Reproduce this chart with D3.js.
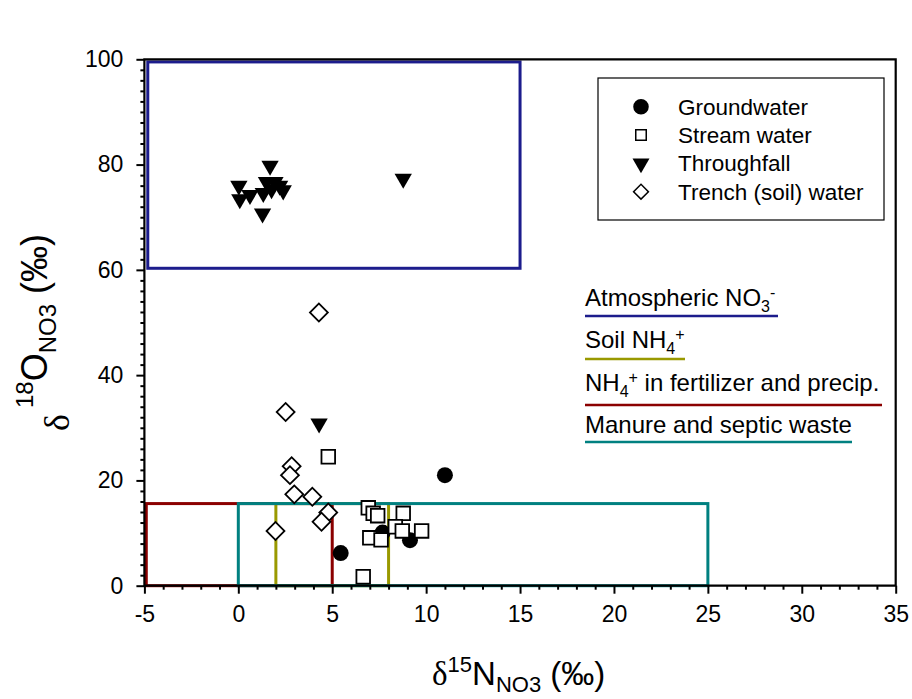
<!DOCTYPE html>
<html><head><meta charset="utf-8">
<script src="https://cdn.jsdelivr.net/npm/d3@7"></script>
<style>body{margin:0;background:#fff}svg{display:block;font-family:"Liberation Sans",Arial,sans-serif}</style>
</head><body><svg id="c" width="912" height="699"></svg>
<script>
// ---- data ----
const groundwaterX = [11.0, 5.45, 7.68, 9.14];
const groundwaterY = [21.0, 6.2, 10.1, 8.65];
const streamX = [4.79, 6.92, 7.18, 7.42, 8.78, 8.36, 7.0, 7.6, 8.73, 9.76, 6.65];
const streamY = [24.5, 14.8, 13.75, 13.3, 13.75, 11.2, 9.1, 8.7, 10.4, 10.4, 1.7];
const throughX = [1.69, 0.03, 0.08, 0.62, 1.33, 1.5, 1.95, 2.2, 2.39, 1.77, 1.29, 8.78, 4.3];
const throughY = [79.8, 76.0, 73.4, 74.2, 74.6, 76.7, 76.7, 76.0, 75.1, 75.3, 70.7, 77.3, 30.8];
const trenchX = [4.29, 2.52, 2.84, 2.75, 2.98, 3.94, 4.79, 4.43, 1.98];
const trenchY = [51.9, 33.0, 22.7, 21.0, 17.35, 16.9, 13.9, 12.15, 10.4];
// source boxes: [x0, x1, y0, y1]
const boxNames = ["Atmospheric", "Fertilizer", "Soil", "Manure"];
const boxX0 = [-4.82, -4.9, 2, 0];
const boxX1 = [15, 5, 8, 25];
const boxY0 = [60.3, 0, 0, 0];
const boxY1 = [99.5, 15.6, 15.6, 15.6];
const boxColors = ["#1c1c8c", "#8b0000", "#999900", "#008080"];
const xTicks = [-5, 0, 5, 10, 15, 20, 25, 30, 35];
const yTicks = [0, 20, 40, 60, 80, 100];
const legendNames = ["Groundwater", "Stream water", "Throughfall", "Trench (soil) water"];

// ---- chart ----
const svg = d3.select("#c");
const x = d3.scaleLinear().domain([-5, 35]).range([144.4, 895.7]);
const y = d3.scaleLinear().domain([0, 100]).range([585.7, 59.3]);

// source boxes
const boxes = boxNames.map((n, i) => ({n, x0: boxX0[i], x1: boxX1[i], y0: boxY0[i], y1: boxY1[i], c: boxColors[i]}));
svg.append("g").selectAll("rect").data(boxes).join("rect")
  .attr("x", d => x(d.x0)).attr("y", d => y(d.y1))
  .attr("width", d => x(d.x1) - x(d.x0)).attr("height", d => y(d.y0) - y(d.y1))
  .attr("fill", "none").attr("stroke", d => d.c).attr("stroke-width", 3);

// axes
const fmt = v => String(v).replace("\u2212", "-");
const xAxis = svg.append("g").attr("transform", `translate(0,${y(0)})`)
  .call(d3.axisBottom(x).tickValues(xTicks).tickSize(8).tickFormat(fmt));
const xMinor = svg.append("g").attr("transform", `translate(0,${y(0)})`)
  .call(d3.axisBottom(x).tickValues(d3.range(-5, 36, 1).filter(v => v % 5 !== 0)).tickSize(4).tickFormat(""));
const yAxis = svg.append("g").attr("transform", `translate(${x(-5)},0)`)
  .call(d3.axisLeft(y).tickValues(yTicks).tickSize(8).tickFormat(fmt));
const yMinor = svg.append("g").attr("transform", `translate(${x(-5)},0)`)
  .call(d3.axisLeft(y).tickValues(d3.range(0, 101, 2).filter(v => v % 20 !== 0)).tickSize(4).tickFormat(""));
[xAxis, xMinor, yAxis, yMinor].forEach(g => {
  g.select(".domain").remove();
  g.selectAll(".tick line").attr("stroke", "#000").attr("stroke-width", 2);
});
xAxis.selectAll(".tick text").attr("font-size", 23).attr("fill", "#000").attr("y", 20).attr("dy", "0.71em")
  .attr("font-family", "Liberation Sans, Arial, sans-serif");
yAxis.selectAll(".tick text").attr("font-size", 23).attr("fill", "#000").attr("x", -21)
  .attr("font-family", "Liberation Sans, Arial, sans-serif");

// frame
const frame = d3.path();
frame.moveTo(x(-5), y(0)); frame.lineTo(x(-5), y(100)); frame.lineTo(x(35), y(100));
frame.lineTo(x(35), y(0)); frame.closePath();
svg.append("path").attr("d", frame.toString()).attr("fill", "none").attr("stroke", "#000").attr("stroke-width", 2.2);

// markers
const triSym = d3.symbol().type(d3.symbolTriangle).size(130);
const circSym = d3.symbol().type(d3.symbolCircle).size(201);
const sqSym = d3.symbol().type(d3.symbolSquare).size(185);
const diaSym = d3.symbol().type(d3.symbolSquare).size(160);

const tr = throughX.map((v, i) => [v, throughY[i]]);
svg.append("g").selectAll("path").data(tr).join("path")
  .attr("d", triSym).attr("transform", d => `translate(${x(d[0])},${y(d[1])}) rotate(180)`).attr("fill", "#000");
const tw = trenchX.map((v, i) => [v, trenchY[i]]);
svg.append("g").selectAll("path").data(tw).join("path")
  .attr("d", diaSym).attr("transform", d => `translate(${x(d[0])},${y(d[1])}) rotate(45)`)
  .attr("fill", "#fff").attr("stroke", "#000").attr("stroke-width", 1.8);
const gw = groundwaterX.map((v, i) => [v, groundwaterY[i]]);
svg.append("g").selectAll("path").data(gw).join("path")
  .attr("d", circSym).attr("transform", d => `translate(${x(d[0])},${y(d[1])})`).attr("fill", "#000");
const sw = streamX.map((v, i) => [v, streamY[i]]);
svg.append("g").selectAll("path").data(sw).join("path")
  .attr("d", sqSym).attr("transform", d => `translate(${x(d[0])},${y(d[1])})`)
  .attr("fill", "#fff").attr("stroke", "#000").attr("stroke-width", 1.8);

// legend
svg.append("rect").attr("x", 598).attr("y", 78).attr("width", 286).attr("height", 142)
  .attr("fill", "#fff").attr("stroke", "#000").attr("stroke-width", 1.2);
const legRows = [106.7, 135, 163.5, 191.7];
const lg = svg.append("g");
lg.append("path").attr("d", d3.symbol().type(d3.symbolCircle).size(190)).attr("transform", `translate(641,${legRows[0]})`).attr("fill", "#000");
lg.append("path").attr("d", d3.symbol().type(d3.symbolSquare).size(110)).attr("transform", `translate(641,${legRows[1]})`).attr("fill", "#fff").attr("stroke", "#000").attr("stroke-width", 1.5);
lg.append("path").attr("d", d3.symbol().type(d3.symbolTriangle).size(125)).attr("transform", `translate(641,${legRows[2]}) rotate(180)`).attr("fill", "#000");
lg.append("path").attr("d", d3.symbol().type(d3.symbolSquare).size(110)).attr("transform", `translate(641,${legRows[3]}) rotate(45)`).attr("fill", "#fff").attr("stroke", "#000").attr("stroke-width", 1.5);
lg.selectAll("text").data(legendNames).join("text")
  .attr("x", 678).attr("y", (d, i) => legRows[i]).attr("dy", "0.35em")
  .attr("font-size", 22.5).attr("fill", "#000").text(d => d);

// source annotations
const ann = svg.append("g").attr("font-size", 24).attr("fill", "#000");
function annot(baseline, parts, lineY, x2, color) {
  const t = ann.append("text").attr("x", 585).attr("y", baseline);
  parts.forEach(p => {
    const s = t.append("tspan").text(p[0]);
    if (p[2]) s.attr("font-size", p[2]);
    if (p[1]) s.attr("dy", p[1]);
  });
  ann.append("line").attr("x1", 585).attr("x2", x2).attr("y1", lineY).attr("y2", lineY)
    .attr("stroke", color).attr("stroke-width", 2.5);
}
annot(306, [["Atmospheric NO"], ["3", 6, 16], ["-", -14, 16]], 316, 778, boxColors[0]);
annot(348, [["Soil NH"], ["4", 6, 16], ["+", -14, 16]], 359, 685, boxColors[2]);
annot(391, [["NH"], ["4", 6, 16], ["+", -14, 16], [" in fertilizer and precip.", 8]], 405, 882, boxColors[1]);
annot(433, [["Manure and septic waste"]], 442, 852, boxColors[3]);

// axis titles
const xt = svg.append("text").attr("x", 432).attr("y", 685).attr("font-size", 33).attr("fill", "#000");
xt.append("tspan").text("δ").attr("font-family", "Liberation Serif, Times New Roman, serif");
xt.append("tspan").text("15").attr("font-size", 22).attr("dy", -13);
xt.append("tspan").text("N").attr("dy", 13);
xt.append("tspan").text("NO3").attr("font-size", 22).attr("dy", 7);
xt.append("tspan").text(" (‰)").attr("dy", -7);

const yt = svg.append("text").attr("transform", "translate(47,431) rotate(-90)").attr("font-size", 36).attr("fill", "#000");
yt.append("tspan").text("δ").attr("font-family", "Liberation Serif, Times New Roman, serif").attr("dy", 22);
yt.append("tspan").text("18").attr("font-size", 24).attr("dx", 6).attr("dy", -36);
yt.append("tspan").text("O").attr("dy", 14);
yt.append("tspan").text("NO3").attr("font-size", 24).attr("dy", 9);
yt.append("tspan").text(" (‰)").attr("dy", -9);
</script></body></html>
